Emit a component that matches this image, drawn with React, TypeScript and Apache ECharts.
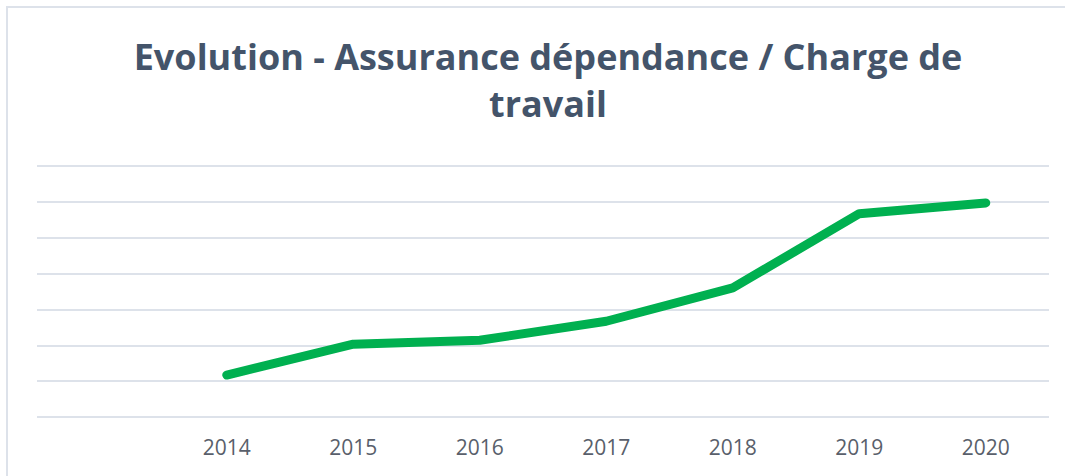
import React, { useEffect, useRef } from "react";
import * as echarts from "echarts";

const titleText = "Evolution - Assurance dépendance / Charge de\ntravail";
const categories = ["", "2014", "2015", "2016", "2017", "2018", "2019", "2020"];
const values = [null, 1.17, 2.03, 2.14, 2.67, 3.6, 5.67, 5.97];
const yMin = 0;
const yMax = 7;
const yInterval = 1;

export default function App() {
  const ref = useRef<HTMLDivElement>(null);
  useEffect(() => {
    if (!ref.current) return;
    const chart = echarts.init(ref.current, undefined, { renderer: "svg" });
    chart.setOption({
      animation: false,
      backgroundColor: "#ffffff",
      title: {
        text: titleText,
        left: 543,
        top: 28,
        textAlign: "center",
        textStyle: {
          color: "#44546a",
          fontFamily: "Open Sans",
          fontWeight: "bold",
          fontSize: 36,
          lineHeight: 47,
        },
      },
      graphic: [
        {
          type: "rect",
          shape: { x: 7, y: 7, width: 1100, height: 500 },
          style: { fill: "none", stroke: "#dde2ea", lineWidth: 2 },
          silent: true,
        },
      ],
      grid: { left: 37, right: 16, top: 166, bottom: 59, containLabel: false },
      xAxis: {
        type: "category",
        data: categories,
        boundaryGap: true,
        axisLine: { show: false },
        axisTick: { show: false },
        axisLabel: {
          color: "#595f6b",
          fontFamily: "Open Sans",
          fontSize: 21,
          margin: 19,
        },
      },
      yAxis: {
        type: "value",
        min: yMin,
        max: yMax,
        interval: yInterval,
        axisLabel: { show: false },
        axisLine: { show: false },
        axisTick: { show: false },
        splitLine: { show: true, lineStyle: { color: "#dde2ea", width: 2 } },
      },
      series: [
        {
          type: "line",
          data: values,
          symbol: "none",
          connectNulls: false,
          lineStyle: { color: "#00b050", width: 9, cap: "round", join: "round" },
        },
      ],
    });
    return () => chart.dispose();
  }, []);
  return (
    <div
      ref={ref}
      style={{ position: "fixed", left: 0, top: 0, width: 1065, height: 476 }}
    />
  );
}
